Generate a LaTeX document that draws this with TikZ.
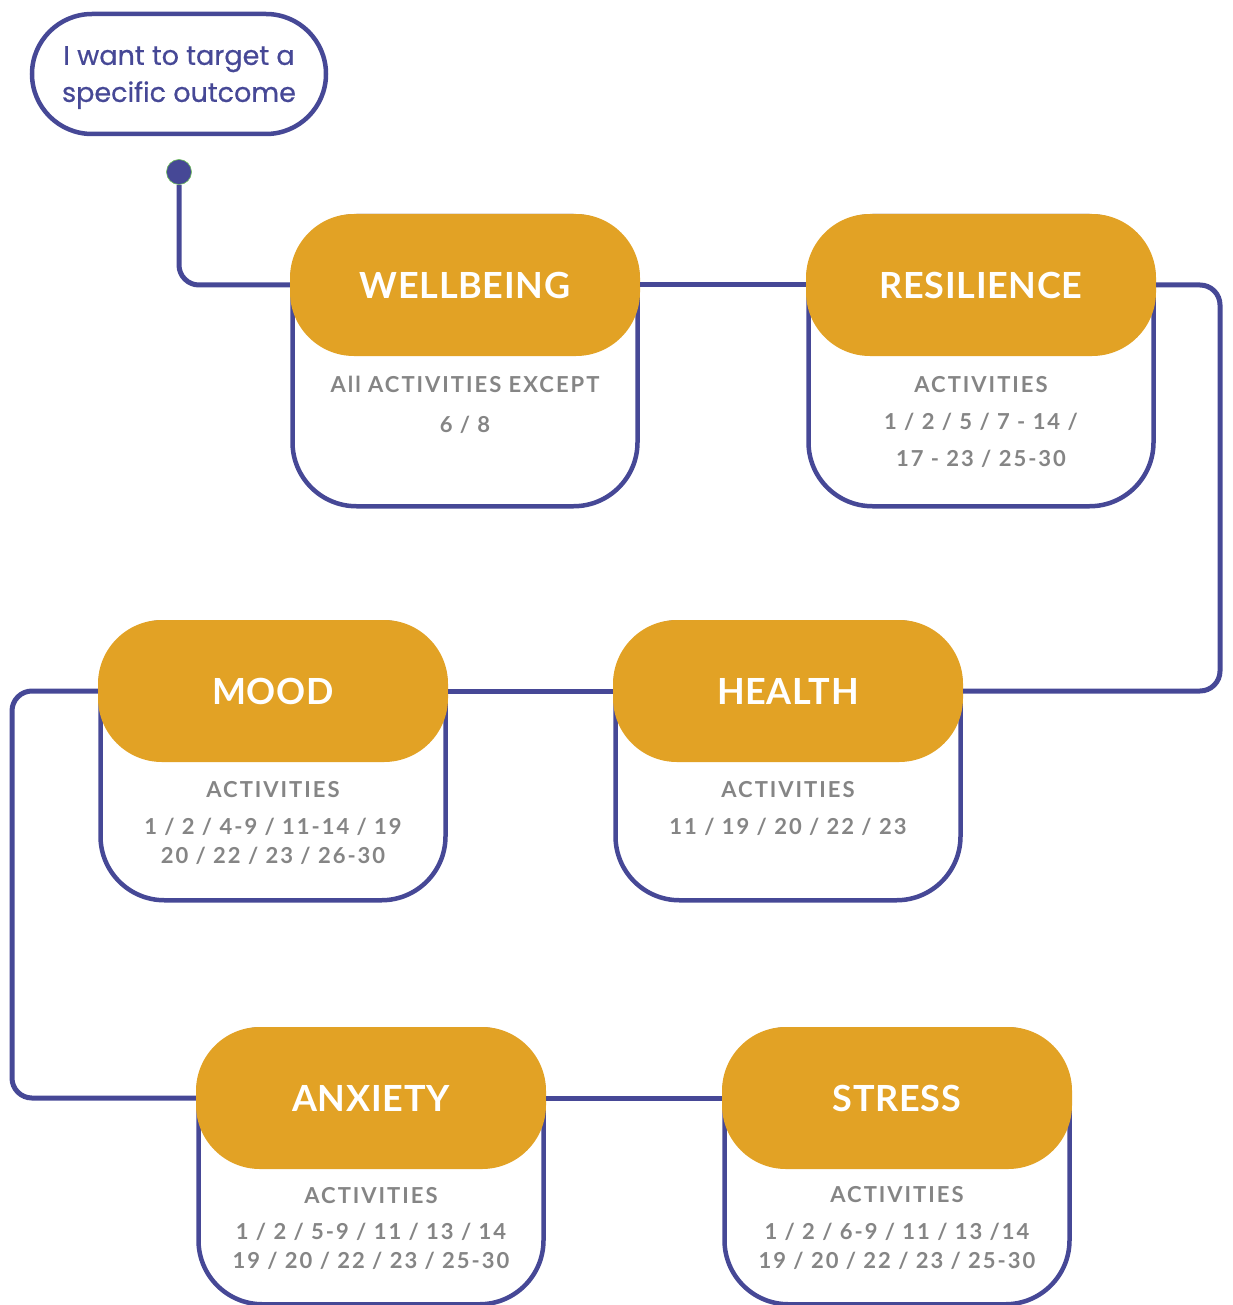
\documentclass[tikz,border=0pt]{standalone}
\usepackage{fontspec}
\usepackage{xcolor}
\usepackage{tikz}
\setmainfont{Lato}
\newfontfamily\titlefont{Lato}[LetterSpace=2]
\newfontfamily\bodyfont{Lato}[LetterSpace=9]
\newfontfamily\startfont{Poppins}[FakeBold=0.6]
\definecolor{flowpurple}{RGB}{70,72,150}
\definecolor{cardgold}{RGB}{226,162,37}
\definecolor{textgray}{RGB}{133,133,133}
\definecolor{dotgreen}{RGB}{110,190,90}

\begin{document}
\begin{tikzpicture}[x=1pt,y=-1pt,
  link/.style={line width=5pt,flowpurple,rounded corners=20pt},
  cardbox/.style={draw=flowpurple,fill=white,line width=4.5pt,
    rounded corners=64pt,minimum width=345pt,inner sep=0pt,anchor=north},
  pill/.style={fill=cardgold,rounded corners=64pt,minimum width=350pt,
    minimum height=142pt,text=white,
    font=\titlefont\bfseries\fontsize{36}{44}\selectfont},
  cardtext/.style={anchor=base,align=center,inner sep=0pt,text=textgray,
    font=\bodyfont\bfseries\fontsize{22}{29}\selectfont}]
  \useasboundingbox (0,0) rectangle (1232,1305);
  \clip (0,0) rectangle (1232,1305);

  % start bubble and dot
  \node[draw=flowpurple,fill=white,line width=4.5pt,rounded corners=60pt,
        minimum width=294pt,minimum height=120pt,align=center,
        text depth=-3pt,text=flowpurple,
        font=\startfont\fontsize{27}{37}\selectfont]
        (start) at (179,74) {I want to target a\\specific outcome};
  \node[circle,fill=flowpurple,draw=dotgreen,line width=0.6pt,
        minimum size=25pt,inner sep=0pt] (dot) at (179,172) {};

  % outcome cards
  \foreach \n/\cx/\cy/\bot/\t in {
    well/465/285/504/WELLBEING, res/981/285/504/RESILIENCE,
    mood/273/691/898/MOOD, health/788/691/898/HEALTH,
    anx/371/1098/1302/ANXIETY, stress/897/1098/1302/STRESS}{
    \node[cardbox,minimum height=\bot-\cy+71] (\n box) at (\cx,\cy-71) {};
    \node[pill] (\n) at (\cx,\cy) {\t};
  }

  % route between the cards
  \coordinate (rturn) at (1220,285);
  \coordinate (lturn) at (12,691);
  \draw[link] (dot) |- (well.west);
  \draw[link] (well.east) -- (res.west);
  \draw[link] (res.east) -- (rturn) |- (health.east);
  \draw[link] (health.west) -- (mood.east);
  \draw[link] (mood.west) -- (lturn) |- (anx.west);
  \draw[link] (anx.east) -- (stress.west);

  % activity lists (placed by the baseline of their last line)
  \node[cardtext] (welltext) at (465,432)
    {All ACTIVITIES EXCEPT\\[11pt]6 / 8};
  \node[cardtext] (restext) at (981,466)
    {ACTIVITIES\\[8pt]1 / 2 / 5 / 7 - 14 /\\[8pt]17 - 23 / 25-30};
  \node[cardtext] (moodtext) at (273,863)
    {ACTIVITIES\\[8pt]1 / 2 / 4-9 / 11-14 / 19\\20 / 22 / 23 / 26-30};
  \node[cardtext] (healthtext) at (788,834)
    {ACTIVITIES\\[8pt]11 / 19 / 20 / 22 / 23};
  \node[cardtext] (anxtext) at (371,1268)
    {ACTIVITIES\\[7pt]1 / 2 / 5-9 / 11 / 13 / 14\\19 / 20 / 22 / 23 / 25-30};
  \node[cardtext] (stresstext) at (897,1268)
    {ACTIVITIES\\[8pt]1 / 2 / 6-9 / 11 / 13 /14\\19 / 20 / 22 / 23 / 25-30};
\end{tikzpicture}
\end{document}
